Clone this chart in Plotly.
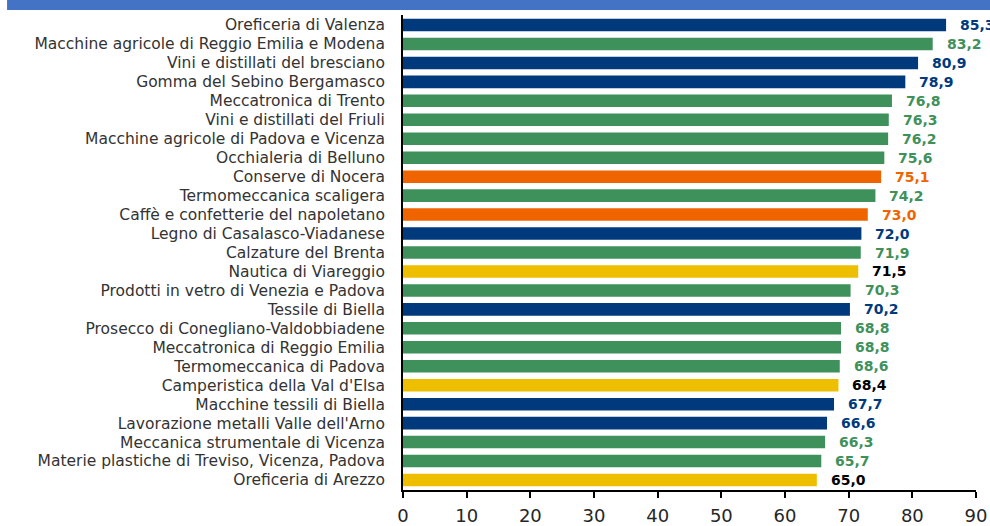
import plotly.graph_objects as go

# Districts, top to bottom
districts = [
    "Oreficeria di Valenza",
    "Macchine agricole di Reggio Emilia e Modena",
    "Vini e distillati del bresciano",
    "Gomma del Sebino Bergamasco",
    "Meccatronica di Trento",
    "Vini e distillati del Friuli",
    "Macchine agricole di Padova e Vicenza",
    "Occhialeria di Belluno",
    "Conserve di Nocera",
    "Termomeccanica scaligera",
    "Caffè e confetterie del napoletano",
    "Legno di Casalasco-Viadanese",
    "Calzature del Brenta",
    "Nautica di Viareggio",
    "Prodotti in vetro di Venezia e Padova",
    "Tessile di Biella",
    "Prosecco di Conegliano-Valdobbiadene",
    "Meccatronica di Reggio Emilia",
    "Termomeccanica di Padova",
    "Camperistica della Val d'Elsa",
    "Macchine tessili di Biella",
    "Lavorazione metalli Valle dell'Arno",
    "Meccanica strumentale di Vicenza",
    "Materie plastiche di Treviso, Vicenza, Padova",
    "Oreficeria di Arezzo",
]
scores = [85.3, 83.2, 80.9, 78.9, 76.8, 76.3, 76.2, 75.6, 75.1, 74.2, 73.0, 72.0,
          71.9, 71.5, 70.3, 70.2, 68.8, 68.8, 68.6, 68.4, 67.7, 66.6, 66.3, 65.7, 65.0]
groups = ["B", "G", "B", "B", "G", "G", "G", "G", "O", "G", "O", "B",
          "G", "Y", "G", "B", "G", "G", "G", "Y", "B", "B", "G", "G", "Y"]
x_ticks = [0, 10, 20, 30, 40, 50, 60, 70, 80, 90]

bar_colors = {"B": "#003a7d", "G": "#3f915b", "O": "#f06400", "Y": "#eebf00"}
text_colors = {"B": "#003a7d", "G": "#3f915b", "O": "#f06400", "Y": "#000000"}

FONT = "DejaVu Sans"

fig = go.Figure(
    go.Bar(
        x=scores,
        y=districts,
        orientation="h",
        marker=dict(color=[bar_colors[g] for g in groups], line=dict(width=0)),
        hoverinfo="skip",
    )
)

# value labels, Italian decimal comma
for name, v, g in zip(districts, scores, groups):
    fig.add_annotation(
        x=v, y=name, xref="x", yref="y",
        text="<b>" + f"{v:.1f}".replace(".", ",") + "</b>",
        showarrow=False, xanchor="left", xshift=12,
        font=dict(family=FONT, size=14, color=text_colors[g]),
    )

# header band
fig.add_shape(
    type="rect", xref="paper", yref="paper",
    x0=-0.691, x1=1.03, y0=1.0105, y1=1.0316,
    fillcolor="#4472c4", line=dict(width=0), layer="above",
)

fig.update_layout(
    width=990, height=526,
    margin=dict(l=403, r=14, t=15, b=36),
    paper_bgcolor="white", plot_bgcolor="white",
    bargap=0.34,
    showlegend=False,
    font=dict(family=FONT, color="#333333"),
    xaxis=dict(
        range=[0, 90], tickvals=x_ticks, showgrid=False, zeroline=False,
        showline=True, linecolor="black", linewidth=1.5,
        ticks="outside", ticklen=6, tickwidth=1.5, tickcolor="black",
        ticklabelstandoff=3,
        tickfont=dict(family=FONT, size=18, color="#262626"),
        automargin=False, fixedrange=True,
    ),
    yaxis=dict(
        autorange="reversed", showgrid=False, zeroline=False,
        showline=True, linecolor="black", linewidth=2,
        tickmode="array", tickvals=districts, ticktext=districts,
        ticks="", ticklabelstandoff=13,
        tickfont=dict(family=FONT, size=15.5, color="#333333"),
        automargin=False, fixedrange=True,
    ),
)

fig.write_html("out.html")
